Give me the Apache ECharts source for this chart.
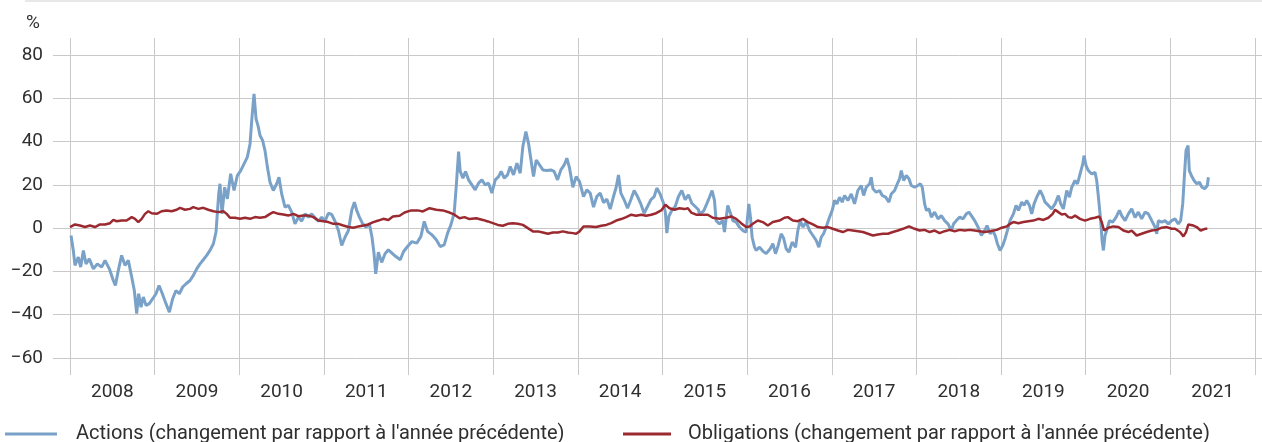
<!DOCTYPE html>
<html><head><meta charset="utf-8">
<script src="https://cdn.jsdelivr.net/npm/echarts@6/dist/echarts.min.js"></script>
<style>html,body{margin:0;padding:0;background:#fff}#c{width:1262px;height:442px}</style>
</head><body><div id="c"></div>
<script>
const yearLabels = ['2008','2009','2010','2011','2012','2013','2014','2015','2016','2017','2018','2019','2020','2021'];
const yTickMin = -60, yTickMax = 80, yTickStep = 20;
const eqName = "Actions (changement par rapport à l'année précédente)";
const bdName = "Obligations (changement par rapport à l'année précédente)";

const eqYears = [
2008.012,2008.039,2008.059,2008.098,2008.126,2008.158,2008.189,2008.228,2008.276,2008.323,2008.374,2008.414,2008.465,2008.512,2008.536,2008.571,2008.610,2008.650,2008.689,2008.729,2008.760,2008.788,2008.811,2008.839,2008.866,2008.898,2008.937,2008.977,
2009.016,2009.052,2009.091,2009.134,2009.174,2009.213,2009.252,2009.292,2009.331,2009.371,2009.418,2009.457,2009.497,2009.536,2009.575,2009.615,2009.654,2009.694,2009.725,2009.757,2009.772,2009.796,2009.827,2009.859,2009.898,2009.938,2009.977,
2010.017,2010.056,2010.095,2010.127,2010.150,2010.174,2010.198,2010.221,2010.245,2010.276,2010.304,2010.332,2010.363,2010.402,2010.442,2010.469,2010.501,2010.540,2010.580,2010.619,2010.658,2010.698,2010.737,2010.777,2010.816,2010.855,2010.895,2010.934,2010.974,
2011.013,2011.052,2011.092,2011.131,2011.171,2011.210,2011.249,2011.289,2011.328,2011.360,2011.387,2011.419,2011.458,2011.497,2011.537,2011.568,2011.592,2011.612,2011.643,2011.682,2011.722,2011.761,2011.830,2011.902,2011.941,2011.988,
2012.039,2012.098,2012.146,2012.185,2012.224,2012.276,2012.327,2012.374,2012.421,2012.461,2012.500,2012.539,2012.563,2012.591,2012.610,2012.642,2012.673,2012.709,2012.748,2012.787,2012.827,2012.866,2012.906,2012.945,2012.984,
2013.024,2013.063,2013.094,2013.130,2013.169,2013.201,2013.240,2013.280,2013.319,2013.350,2013.386,2013.417,2013.449,2013.476,2013.508,2013.547,2013.587,2013.634,2013.681,2013.720,2013.760,2013.799,2013.839,2013.870,2013.902,2013.941,2013.980,
2014.020,2014.067,2014.106,2014.146,2014.185,2014.224,2014.264,2014.303,2014.343,2014.382,2014.421,2014.453,2014.480,2014.508,2014.547,2014.587,2014.626,2014.665,2014.705,2014.744,2014.783,2014.823,2014.862,2014.902,2014.933,2014.972,
2015.012,2015.035,2015.051,2015.075,2015.110,2015.150,2015.189,2015.228,2015.268,2015.307,2015.346,2015.386,2015.425,2015.436,2015.484,2015.523,2015.555,2015.586,2015.614,2015.633,2015.673,2015.712,2015.732,2015.771,2015.799,2015.831,2015.870,2015.909,2015.949,2015.988,
2016.020,2016.039,2016.059,2016.087,2016.106,2016.146,2016.185,2016.225,2016.248,2016.272,2016.304,2016.335,2016.367,2016.402,2016.430,2016.461,2016.493,2016.532,2016.572,2016.599,2016.627,2016.658,2016.698,2016.737,2016.777,2016.816,2016.847,2016.875,2016.903,2016.934,2016.974,
2017.005,2017.033,2017.060,2017.092,2017.123,2017.151,2017.190,2017.230,2017.269,2017.308,2017.348,2017.376,2017.407,2017.447,2017.466,2017.486,2017.525,2017.565,2017.596,2017.636,2017.675,2017.703,2017.742,2017.782,2017.801,2017.821,2017.849,2017.880,2017.912,2017.939,2017.979,
2018.018,2018.046,2018.069,2018.097,2018.117,2018.148,2018.176,2018.215,2018.255,2018.294,2018.333,2018.373,2018.412,2018.440,2018.471,2018.511,2018.550,2018.590,2018.621,2018.649,2018.688,2018.728,2018.767,2018.806,2018.834,2018.870,2018.900,2018.930,2018.957,2018.988,
2019.020,2019.047,2019.075,2019.106,2019.146,2019.177,2019.205,2019.244,2019.272,2019.303,2019.335,2019.362,2019.390,2019.421,2019.461,2019.492,2019.520,2019.559,2019.598,2019.638,2019.677,2019.705,2019.736,2019.776,2019.807,2019.835,2019.874,2019.902,2019.933,2019.965,2019.980,
2020.004,2020.031,2020.071,2020.110,2020.130,2020.154,2020.177,2020.193,2020.209,2020.228,2020.248,2020.280,2020.319,2020.358,2020.398,2020.425,2020.465,2020.504,2020.543,2020.583,2020.622,2020.661,2020.701,2020.740,2020.780,2020.819,2020.839,2020.858,2020.898,2020.937,2020.976,
2021.016,2021.055,2021.094,2021.122,2021.146,2021.165,2021.185,2021.209,2021.224,2021.248,2021.280,2021.311,2021.343,2021.374,2021.406,2021.437,2021.449
];
const eqValues = [
-3.4,-10.3,-17.2,-13.4,-18,-10.3,-16.5,-14.2,-18.8,-16.5,-18,-14.9,-18.8,-24.2,-26.5,-19.5,-12.6,-17.2,-14.9,-22.6,-28.8,-39.5,-30.3,-36.5,-31.8,-35.7,-34.9,-32.6,
-30.3,-26.5,-30.3,-34.9,-38.8,-32.6,-28.8,-30.3,-27.2,-25.7,-24.2,-21.8,-18.8,-16.5,-14.6,-12.6,-10.3,-7.2,-1.8,15.8,20.5,6.6,18.9,13.5,25.1,17.4,24.3,
26.6,29.7,32.8,38.9,51.2,62,50.5,47.4,42.8,40.5,35.8,28.2,21.2,17.4,20.5,23.5,15.8,9.7,10.5,7.4,2,5.1,3.2,6.6,5.1,6.6,4.8,3.2,5.1,
3.2,6.9,6.3,3.2,-1.1,-8,-4.2,-1.1,8.2,12,8.2,5.1,2,0.5,2,-4.2,-11.8,-21.1,-11.1,-15.8,-11.8,-10,-12.5,-14.6,-10.8,-8.5,
-6.2,-6.9,-3.8,3.1,-1.5,-3.1,-5.4,-8.5,-7.7,-2.3,1.5,6.9,19.2,35.4,26.2,23.1,26.2,22.3,20,17.7,20.8,22.3,20,20.8,16.2,
22.3,23.8,26.2,23.1,24.6,28.5,24.6,30,25.4,37.7,44.6,39.2,30.8,23.8,31.5,29.2,26.9,26.6,26.9,26.2,22.3,26.9,29.2,32.3,27.7,18.9,23.8,
21.5,14.6,17.7,16.2,9.7,14.6,16.2,11.8,13.4,8.8,14.6,18.9,24.6,16.2,13.1,9.2,13.1,17.4,14.6,11.2,6.9,10,13.1,14.6,18.5,15.8,
11.5,6.9,-2.3,5.4,8.2,10,14.6,17.4,13.1,15.4,11.5,10,8.5,6.6,7.8,11.2,14.3,17.4,12.8,3.5,2,3.5,-1.8,10.5,7.4,3.5,2.8,0.5,-1.1,-1.8,
11.2,5.1,-4.2,-8.8,-10.3,-8.8,-10.6,-11.8,-12.6,-9.5,-7.2,-11.8,-8,-2.6,-4.5,-9.5,-11.1,-6.5,-8.8,-1.1,3.5,0.5,2.8,-1.1,-3.4,-5.7,-8.8,-4.2,-2.6,0.5,5.1,
8.2,12.8,11.2,14.3,12,15.1,12.8,15.8,11.2,17.4,19.7,15.1,18.9,20.5,23.5,18.2,16.6,17.4,15.1,14.3,12,15.8,17.4,21.2,22.8,26.6,22,24.3,22.8,19.7,18.9,
19.7,20.5,18.9,11.2,8.2,8.9,5.1,7.4,4.3,5.8,3.5,2,-1.1,2,3.5,5.1,4.3,6.6,7.4,5.8,3.5,0.5,-3.4,-1.1,1.2,-2.6,-1.1,-3.4,-7.2,-10.3,
-8,-4.9,-1,3.5,6.6,10.5,8.2,12,10.5,12.8,10.5,6.6,11.2,14.3,17.4,15,12,10.5,8.9,11.2,15,11.2,8.9,17.4,14.3,18.9,22,20.5,25,29.7,33.5,
28.9,26.6,25,25.8,22,12.8,3.5,-5.7,-10.3,-3.4,-1.1,3.5,2.8,5,8.2,5.8,3.5,6.6,8.9,5,7.4,4.3,7.4,6.6,3.5,0.5,-2.6,3.5,2.8,3.5,2,
3.5,4.3,2,3.5,11.2,23.5,35.8,38.2,26.6,24.3,22,20.5,21.2,18.9,18.2,19.7,23.5
];

const bdYears = [
2008.000,2008.059,2008.118,2008.177,2008.236,2008.295,2008.354,2008.414,2008.473,2008.512,2008.551,2008.610,2008.669,2008.729,2008.768,2008.807,2008.847,2008.886,2008.925,2008.965,
2009.024,2009.083,2009.142,2009.201,2009.260,2009.300,2009.359,2009.418,2009.457,2009.516,2009.575,2009.634,2009.694,2009.753,2009.812,2009.851,2009.890,2009.949,
2010.009,2010.068,2010.127,2010.186,2010.245,2010.304,2010.363,2010.402,2010.461,2010.520,2010.580,2010.639,2010.698,2010.757,2010.816,2010.875,2010.934,2010.993,
2011.052,2011.111,2011.170,2011.229,2011.289,2011.348,2011.407,2011.466,2011.525,2011.584,2011.643,2011.702,2011.761,2011.815,2011.894,2011.953,
2012.031,2012.110,2012.169,2012.248,2012.327,2012.406,2012.484,2012.543,2012.602,2012.661,2012.720,2012.800,2012.878,2012.937,2012.996,
2013.055,2013.114,2013.173,2013.232,2013.291,2013.350,2013.409,2013.469,2013.528,2013.587,2013.646,2013.705,2013.764,2013.823,2013.882,2013.941,2013.980,
2014.020,2014.067,2014.138,2014.217,2014.276,2014.335,2014.394,2014.453,2014.512,2014.571,2014.630,2014.689,2014.748,2014.807,2014.866,2014.925,2014.984,
2015.035,2015.083,2015.142,2015.200,2015.260,2015.300,2015.339,2015.398,2015.457,2015.535,2015.594,2015.673,2015.752,2015.811,2015.870,2015.929,2015.988,
2016.028,2016.067,2016.126,2016.185,2016.244,2016.304,2016.382,2016.441,2016.481,2016.540,2016.599,2016.658,2016.717,2016.777,2016.836,2016.895,2016.954,
2017.012,2017.072,2017.131,2017.190,2017.249,2017.308,2017.368,2017.427,2017.486,2017.545,2017.604,2017.663,2017.722,2017.782,2017.841,2017.912,2017.979,
2018.038,2018.097,2018.156,2018.215,2018.274,2018.333,2018.393,2018.452,2018.511,2018.570,2018.629,2018.688,2018.747,2018.806,2018.866,2018.949,
2019.008,2019.067,2019.106,2019.146,2019.205,2019.264,2019.323,2019.382,2019.441,2019.500,2019.559,2019.610,2019.638,2019.677,2019.717,2019.756,2019.795,2019.835,2019.874,2019.933,2019.992,
2020.051,2020.110,2020.161,2020.189,2020.217,2020.268,2020.327,2020.386,2020.445,2020.504,2020.543,2020.602,2020.661,2020.720,2020.780,2020.839,2020.898,2020.957,
2021.016,2021.055,2021.114,2021.154,2021.185,2021.213,2021.272,2021.311,2021.358,2021.409,2021.437
];
const bdValues = [
0.5,1.7,1.2,0.5,1.2,0.5,1.7,1.7,2.3,3.8,3.2,3.5,3.5,5.1,4.3,2.8,4.3,6.6,7.8,6.9,
6.6,7.8,8.2,7.8,8.5,9.4,8.5,8.9,9.7,8.9,9.4,8.5,7.8,7.4,7.8,6.6,4.8,4.8,
4.3,4.8,4.3,5.1,4.8,5.1,6.6,7.4,6.6,6.3,5.8,6.6,5.5,5.8,5.8,5.1,3.5,3.2,
2.8,2,2,1.2,0.5,0.2,0.8,1.2,1.7,2.8,3.5,4.3,3.8,5.4,5.7,7.2,
8.2,8.2,7.7,9.2,8.5,8.2,7.2,6.2,4.6,5.1,4.2,4.6,3.8,3.1,2.3,
1.5,1.1,2,2.3,2,1.5,0,-1.5,-1.5,-2,-2.6,-2,-2,-1.5,-2,-2.3,-2.6,
-1.5,0.8,0.8,0.5,1.1,1.5,2.3,3.5,4.2,5.1,6.2,5.7,6.2,5.7,6.2,6.9,8.2,
10.8,9.2,8.5,9.2,8.8,9.2,7.2,6.2,6.2,6.2,4.8,4.3,4.8,5.4,4.3,2.3,0.5,
0.8,2,3.5,2.8,1.2,2.8,3.5,4.8,5.1,3.5,3.2,4.3,2.8,1.7,0.5,0.2,0.5,
-0.3,-1.1,-1.8,-0.8,-1.1,-1.4,-1.8,-2.6,-3.4,-2.9,-2.6,-2.6,-1.8,-1.1,-0.3,0.8,-0.3,
-1.1,-0.8,-1.8,-1.1,-2.3,-1.4,-0.8,-1.4,-0.8,-1.1,-0.8,-1.1,-1.4,-1.8,-1.4,-0.8,
0.2,0.8,2,2.8,2.3,2.8,3.2,3.5,4.3,3.8,4.8,6.6,8.5,7.4,6.3,6.6,5.1,4.8,5.8,4.3,3.5,
4.3,4.8,5.4,2.8,-1.1,0.2,0.8,0.5,-1.1,-1.8,-1.1,-3.4,-2.6,-1.8,-1.1,-0.8,0.2,0.5,
-0.3,-0.3,-1.8,-3.8,-1.8,1.7,1.2,0.5,-1.1,-0.3,-0.3
];

const FONT = 'Roboto, "Liberation Sans", sans-serif';
const TXT = '#2f2f2f';
const GRIDC = '#c9c9c9';
const eqData = eqYears.map((x, i) => [x, eqValues[i]]);
const bdData = bdYears.map((x, i) => [x, bdValues[i]]);

const chart = echarts.init(document.getElementById('c'), null, {renderer: 'canvas'});
chart.setOption({
  animation: false,
  backgroundColor: '#ffffff',
  textStyle: {fontFamily: FONT},
  grid: [
    {left: 70, right: 7, top: 38, bottom: 67},
    {left: 53, right: 0, top: 55, bottom: 84}
  ],
  xAxis: [
    {gridIndex: 0, type: 'value', min: 2008, max: 2022, show: false},
    {gridIndex: 0, type: 'category', data: yearLabels, boundaryGap: true, position: 'bottom',
     axisLine: {show: false}, axisTick: {show: false},
     splitLine: {show: true, interval: 0, lineStyle: {color: GRIDC, width: 1}},
     axisLabel: {interval: 0, color: TXT, fontSize: 19, fontFamily: FONT, fontWeight: 'normal', margin: 8}},
    {gridIndex: 1, type: 'value', min: 0, max: 1, show: false}
  ],
  yAxis: [
    {gridIndex: 0, type: 'value', min: -67.85, max: 87.85, show: false},
    {gridIndex: 1, type: 'value', min: yTickMin, max: yTickMax, interval: yTickStep,
     axisLine: {show: false}, axisTick: {show: false},
     splitLine: {show: true, lineStyle: {color: GRIDC, width: 1}},
     axisLabel: {color: TXT, fontSize: 19, fontFamily: FONT, fontWeight: 'normal', margin: 10,
       formatter: v => v < 0 ? '\u2212' + Math.abs(v) : String(v)}}
  ],
  legend: [
    {data: [eqName], left: 0, top: 419, icon: 'rect', itemWidth: 52, itemHeight: 3,
     textStyle: {fontSize: 20, color: TXT, fontFamily: FONT, fontWeight: 'normal', padding: [0, 0, 0, 14]}},
    {data: [bdName], left: 618, top: 419, icon: 'rect', itemWidth: 48, itemHeight: 3,
     textStyle: {fontSize: 20, color: TXT, fontFamily: FONT, fontWeight: 'normal', padding: [0, 0, 0, 12]}}
  ],
  graphic: [
    {type: 'line', shape: {x1: 25, y1: 1, x2: 1262, y2: 1}, style: {stroke: '#e8e8e8', lineWidth: 2}},
    {type: 'text', left: 26, top: 14, style: {text: '%', fontSize: 19, fill: TXT, fontFamily: FONT}}
  ],
  series: [
    {name: eqName, type: 'line', xAxisIndex: 0, yAxisIndex: 0, data: eqData, showSymbol: false,
     color: '#7aa2c8', lineStyle: {width: 3, color: '#7aa2c8'}, z: 3},
    {name: bdName, type: 'line', xAxisIndex: 0, yAxisIndex: 0, data: bdData, showSymbol: false,
     color: '#9b2a30', lineStyle: {width: 2.5, color: '#9b2a30'}, z: 4}
  ]
});
</script></body></html>
